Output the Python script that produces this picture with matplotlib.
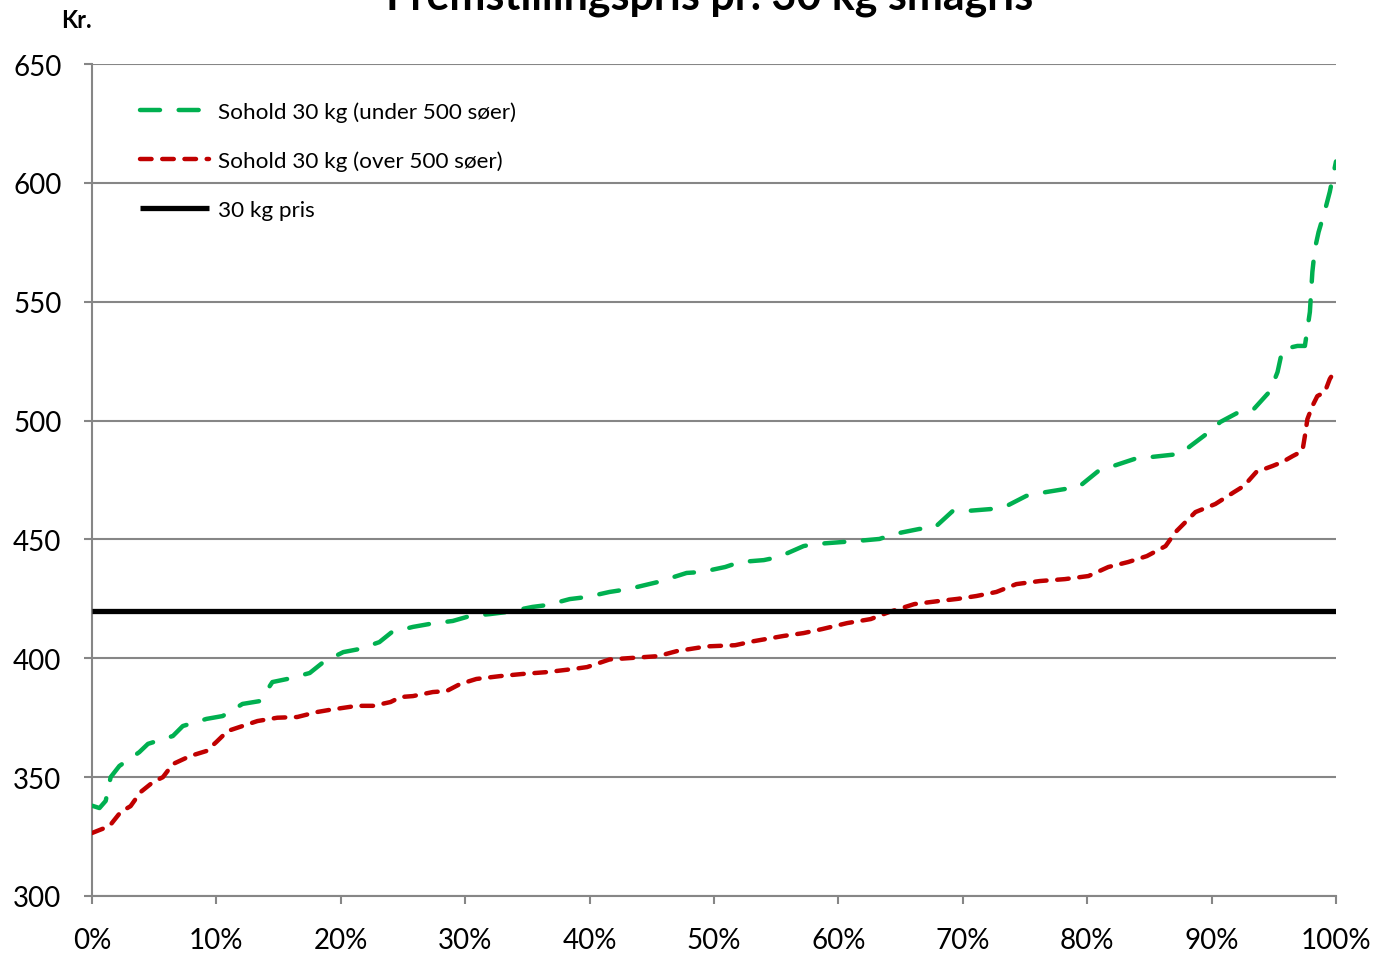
import matplotlib
matplotlib.use("Agg")
import matplotlib.pyplot as plt
from matplotlib.ticker import FuncFormatter

plt.rcParams['font.family'] = ['Lato', 'DejaVu Sans']

title = "Fremstillingspris pr. 30 kg smågris"
ylabel = "Kr."
label_green = "Sohold 30 kg (under 500 søer)"
label_red = "Sohold 30 kg (over 500 søer)"
label_black = "30 kg pris"

green_x = [0, 0.6, 1.1, 1.5, 2.2, 3.8, 4.5, 6.5, 7.3, 9.2, 10.5, 12.1, 13.5, 14.5, 15.7,
           17.5, 18.6, 20.2, 21.5, 23.1, 24.1, 25.8, 27.2, 29.0, 30.4, 32.0, 33.4, 35.4,
           36.6, 38.4, 39.8, 41.6, 43.1, 45.5, 47.8, 49.0, 50.9, 52.1, 54.0, 55.2, 57.2,
           58.0, 60.3, 61.4, 63.3, 64.5, 66.5, 67.7, 69.2, 70.4, 72.3, 73.5, 75.1, 76.2,
           78.2, 79.3, 80.9, 82.1, 84.0, 85.2, 87.5, 88.3, 89.9, 90.7, 92.2, 93.4, 94.7,
           95.3, 95.7, 96.9, 97.5, 97.7, 97.9, 98.1, 98.3, 98.6, 99.1, 99.5, 100]
green_y = [338, 337, 340, 350, 354.7, 360.5, 364, 367.3, 371.5, 374.5, 375.7, 380.8, 382,
           390, 391.3, 393.8, 398.4, 402.6, 403.9, 406.8, 411, 413.2, 414.5, 415.7, 417.8,
           418.6, 419.5, 421.6, 422.4, 424.9, 425.8, 427.9, 429.1, 432.1, 435.9, 436.3,
           438.4, 440.5, 441.3, 442.6, 447.2, 448, 448.9, 449.3, 450.2, 452.3, 454.4, 454.8,
           462, 462, 462.8, 464, 468.3, 469.5, 471.2, 472, 478.8, 480.9, 484.2, 484.7, 486,
           489.3, 495.6, 499.4, 503.6, 504.9, 512.4, 520.4, 530, 531.4, 531.4, 538.5, 545.7,
           562.5, 572.2, 579.3, 588.2, 596.2, 609]

red_x = [0, 1.4, 2.3, 3.1, 3.9, 4.9, 5.7, 6.5, 7.9, 9.2, 10.0, 10.9, 12.1, 13.3, 14.9,
         16.5, 18.1, 19.1, 21.3, 22.6, 24.0, 24.8, 25.8, 27.4, 28.5, 29.6, 30.9, 32.8, 34.6,
         36.6, 38.7, 39.8, 41.6, 45.5, 47.0, 49.4, 51.7, 53.2, 55.6, 57.2, 58.7, 60.7, 62.6,
         64.1, 66.1, 68.1, 69.6, 71.1, 72.7, 74.3, 76.2, 78.2, 80.1, 81.7, 83.3, 84.8, 86.3,
         87.1, 88.7, 90.3, 91.8, 92.6, 93.6, 94.9, 95.7, 96.5, 97.3, 97.5, 97.7, 98.1, 98.5,
         99.1, 99.5, 100]
red_y = [326.5, 329.4, 335.3, 337.8, 343.7, 347.9, 350, 355.5, 358.9, 361, 364.8, 369.4,
         371.5, 373.6, 375, 375.3, 377.4, 378.3, 380, 380, 381.6, 383.7, 384.1, 385.8, 386.2,
         389.2, 391.3, 392.5, 393.4, 394.2, 395.5, 396.3, 399.5, 400.9, 403, 405, 405.5,
         407.2, 409.4, 410.6, 412.3, 414.8, 416.5, 419.5, 422.8, 424.1, 425, 426.2, 427.9,
         431.2, 432.5, 433.3, 434.6, 438.4, 440.5, 443, 447.2, 453.1, 461.5, 464.9, 469.9,
         472.5, 478.4, 480.9, 482.6, 485, 487.2, 493.5, 500.6, 506.1, 510.3, 512, 517.5, 521.7]

price_level = 420

y_ticks = [300, 350, 400, 450, 500, 550, 600, 650]
x_ticks = [0, 10, 20, 30, 40, 50, 60, 70, 80, 90, 100]

fig = plt.figure(figsize=(13.77, 9.54), dpi=100)
ax = fig.add_axes([92/1377, 57/954, (1336-92)/1377, (897-65)/954])

grid_c = '#868686'
ax.set_xlim(0, 100)
ax.set_ylim(300, 650)
ax.set_yticks(y_ticks)
ax.set_xticks(x_ticks)
ax.xaxis.set_major_formatter(FuncFormatter(lambda v, p: f"{int(v)}%"))
ax.grid(axis='y', color=grid_c, linewidth=1.5)
ax.set_axisbelow(True)
for s in ['top', 'right']:
    ax.spines[s].set_visible(False)
for s in ['left', 'bottom']:
    ax.spines[s].set_color(grid_c)
    ax.spines[s].set_linewidth(1.5)
ax.tick_params(axis='both', colors=grid_c, length=6, width=1.5, labelsize=20,
               labelcolor='black')
ax.tick_params(axis='x', pad=16)
ax.tick_params(axis='y', pad=16)

ax.plot(green_x, green_y, color='#00B050', lw=3.2, linestyle=(0, (4.5, 4.2)),
        dash_capstyle='round', solid_capstyle='round', label=label_green, zorder=3)
ax.plot(red_x, red_y, color='#C00000', lw=3.2, linestyle=(0, (2.6, 2.4)),
        dash_capstyle='round', label=label_red, zorder=3)
ax.axhline(price_level, color='black', lw=3.8, label=label_black, zorder=4,
           solid_capstyle='butt')

leg = ax.legend(loc='upper left', bbox_to_anchor=(0.031, 0.966), frameon=False, fontsize=16.2,
                handlelength=3.1, handletextpad=0.4, labelspacing=1.27,
                borderaxespad=0, borderpad=0.4)

fig.text(710, 954 - 10, title, transform=None, ha='center', va='baseline',
         fontsize=31, fontweight='bold')
fig.text(61, 954 - 28, ylabel, transform=None, ha='left', va='baseline', fontsize=17,
         fontweight='bold')

fig.savefig('out.png', dpi=100)
